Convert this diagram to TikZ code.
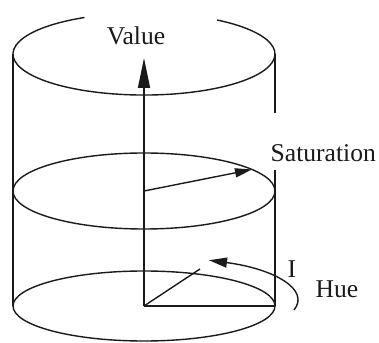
\documentclass[tikz,border=0pt]{standalone}
\usepackage{fontspec}
\setmainfont{Liberation Serif}
\usetikzlibrary{arrows.meta}
\definecolor{hsvline}{HTML}{1A1A1A}

\begin{document}
\begin{tikzpicture}[x=0.5pt,y=0.5pt,line width=0.7pt,draw=hsvline,
  lbl/.style={font=\fontsize{12.8}{15}\selectfont,inner sep=0pt,text=hsvline}]
  \useasboundingbox (0,0) rectangle (379,342);
  % key points
  \coordinate (O) at (144,36);
  \coordinate (M) at (144,151);
  \coordinate (V) at (144,284);
  \coordinate (S) at (252,172.5);
  \coordinate (D) at (200,73);
  \coordinate (R) at (275,36);
  % the three discs
  \draw (84.5,324.5) arc[start angle=117,end angle=416,x radius=131,y radius=41];
  \draw (M) ellipse[x radius=131,y radius=38];
  \draw (O) ellipse[x radius=131,y radius=35];
  % walls
  \draw (13,288) -- (13,36);
  \draw (275,288) -- (275,229) (275,172) -- (R);
  % axes
  \draw[-{Triangle[length=15pt,width=6pt]}] (O) -- (V);
  \draw[-{Triangle[length=8.5pt,width=4.5pt]}] (M) -- (S);
  \draw (O) -- (R);
  \draw (O) -- (D);
  \draw[-{Triangle[length=9pt,width=5pt]}] (294,32) arc[start angle=-13,end angle=65,x radius=154,y radius=44];
  % labels
  \node[lbl,anchor=base] (val) at (136,297) {Value};
  \node[lbl,anchor=base west] (sat) at (270,180) {Saturation};
  \node[lbl,anchor=base west] (hue) at (315,45) {Hue};
  \node[lbl,anchor=base] (tick) at (292,64) {I};
\end{tikzpicture}
\end{document}
